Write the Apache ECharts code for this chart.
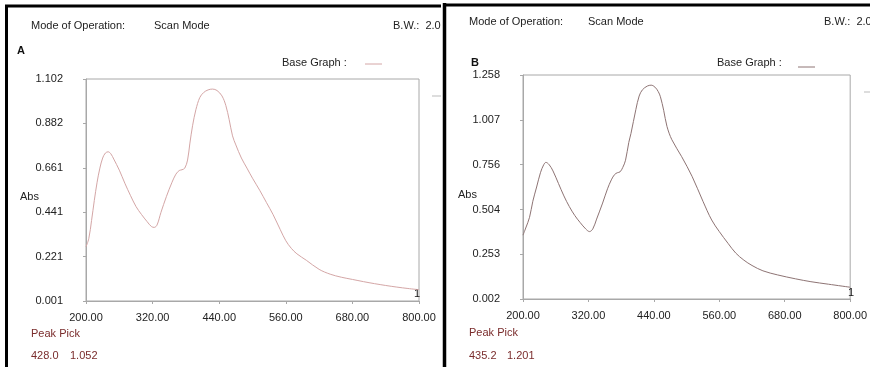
<!DOCTYPE html>
<html>
<head>
<meta charset="utf-8">
<script src="https://cdn.jsdelivr.net/npm/echarts@6/dist/echarts.min.js"></script>
<style>
html,body{margin:0;padding:0;background:#fff;}
#c{width:870px;height:367px;}
</style>
</head>
<body>
<div id="c"></div>
<script>
// ---- Data ----
const xTicks = [200, 320, 440, 560, 680, 800];
const yTicksA = [0.001, 0.221, 0.441, 0.661, 0.882, 1.102];
const yTicksB = [0.002, 0.253, 0.504, 0.756, 1.007, 1.258];

const nmA = [200,205,210,215,220,225,230,235,240,245,250,260,270,280,290,300,310,318,323,328,335,345,355,362,368,373,378,383,387,392,398,405,412,420,428,436,445,452,458,464,470,480,490,500,513,525,537,550,560,570,580,597,620,640,660,680,700,720,740,760,780,800];
const absA = [0.27,0.31,0.40,0.50,0.59,0.66,0.71,0.735,0.741,0.73,0.705,0.65,0.585,0.525,0.47,0.43,0.395,0.37,0.366,0.378,0.44,0.52,0.59,0.63,0.648,0.652,0.66,0.70,0.78,0.87,0.95,1.01,1.035,1.048,1.052,1.045,1.018,0.97,0.9,0.82,0.775,0.71,0.66,0.61,0.55,0.49,0.43,0.355,0.30,0.262,0.235,0.203,0.158,0.134,0.119,0.108,0.097,0.087,0.078,0.07,0.063,0.057];

const nmB = [200,205,212,218,225,232,238,242,248,255,265,275,285,295,305,315,322,328,335,346,355,362,368,373,378,383,388,394,398,407,413,419,428,435,442,448,452,458,464,473,491,510,530,546,560,576,590,605,620,640,667,700,728,760,800];
const absB = [0.36,0.40,0.46,0.55,0.63,0.71,0.755,0.768,0.755,0.72,0.65,0.58,0.52,0.47,0.43,0.395,0.38,0.395,0.45,0.54,0.62,0.67,0.70,0.71,0.715,0.74,0.78,0.88,0.93,1.065,1.14,1.175,1.196,1.201,1.19,1.165,1.136,1.06,0.97,0.895,0.80,0.69,0.55,0.445,0.38,0.314,0.26,0.22,0.19,0.16,0.137,0.115,0.099,0.085,0.068];

const peakA = ['428.0', '1.052'];
const peakB = ['435.2', '1.201'];

// ---- Chart ----
const FONT = '"Liberation Sans", Arial, sans-serif';
const AX = '#a8a8a8';
const colA = '#d4a6a6';
const colB = '#8e7474';
const peakCol = '#7a2c2c';

function xAxis(gi){
  return {
    type:'value', gridIndex:gi, min:200, max:800,
    axisLine:{show:true, lineStyle:{color:AX}},
    axisTick:{show:true, inside:false, length:3, lineStyle:{color:AX}, customValues:xTicks},
    axisLabel:{color:'#222', fontFamily:FONT, fontSize:11, margin:11, customValues:xTicks,
      formatter:v=>v.toFixed(2)},
    splitLine:{show:false}
  };
}
function yAxis(gi, ticks){
  return {
    type:'value', gridIndex:gi, min:ticks[0], max:ticks[ticks.length-1],
    axisLine:{show:true, lineStyle:{color:AX}},
    axisTick:{show:true, length:3, lineStyle:{color:AX}, customValues:ticks},
    axisLabel:{color:'#222', fontFamily:FONT, fontSize:11, margin:23, customValues:ticks,
      formatter:v=>v.toFixed(3)},
    splitLine:{show:false}
  };
}
function txt(x,y,t,opt){
  return Object.assign({type:'text', x:x, y:y, style:Object.assign({text:t, fill:'#222', font:'11px '+FONT, textVerticalAlign:'middle'}, opt||{})});
}
function line(x1,y1,x2,y2,color,w){
  return {type:'line', shape:{x1:x1,y1:y1,x2:x2,y2:y2}, style:{stroke:color, lineWidth:w}};
}

const chart = echarts.init(document.getElementById('c'), null, {renderer:'canvas'});
chart.setOption({
  animation:false,
  backgroundColor:'#fff',
  grid:[
    {left:86, top:79, width:333, height:222, show:true, borderColor:AX, borderWidth:1, backgroundColor:'transparent'},
    {left:523, top:75, width:330, height:224, show:true, borderColor:AX, borderWidth:1, backgroundColor:'transparent'}
  ],
  xAxis:[xAxis(0), xAxis(1)],
  yAxis:[yAxis(0, yTicksA), yAxis(1, yTicksB)],
  series:[
    {type:'line', xAxisIndex:0, yAxisIndex:0, data:nmA.map((x,i)=>[x,absA[i]]),
     smooth:0.35, showSymbol:false, lineStyle:{color:colA, width:1}},
    {type:'line', xAxisIndex:1, yAxisIndex:1, data:nmB.map((x,i)=>[x,absB[i]]),
     smooth:0.35, showSymbol:false, lineStyle:{color:colB, width:1}}
  ],
  graphic:[
    // frames
    line(6.5,5,6.5,367,'#000',3),
    line(5,6,441,6,'#000',3),
    line(444.5,3,444.5,367,'#000',3.5),
    line(443,5,870,5,'#000',3),
    // panel A texts
    txt(31,26,'Mode of Operation:'),
    txt(154,26,'Scan Mode'),
    txt(393,26,'B.W.:  2.0'),
    txt(17,51,'A',{font:'bold 11px '+FONT, fill:'#111'}),
    txt(282,63,'Base Graph :'),
    line(365,64,382,64,colA,1),
    line(432,96,441,96,'#bbb',1),
    txt(20,197,'Abs'),
    txt(414,294,'1',{fill:'#111'}),
    txt(31,334,'Peak Pick',{fill:peakCol}),
    txt(31,356,peakA[0],{fill:peakCol}),
    txt(70,356,peakA[1],{fill:peakCol}),
    // panel B texts
    txt(469,22,'Mode of Operation:'),
    txt(588,22,'Scan Mode'),
    txt(824,22,'B.W.:  2.0'),
    txt(471,63,'B',{font:'bold 11px '+FONT, fill:'#111'}),
    txt(717,63,'Base Graph :'),
    line(798,67,815,67,colB,1),
    line(864,92,870,92,'#bbb',1),
    txt(458,195,'Abs'),
    txt(848,293,'1',{fill:'#111'}),
    txt(469,333,'Peak Pick',{fill:peakCol}),
    txt(469,356,peakB[0],{fill:peakCol}),
    txt(507,356,peakB[1],{fill:peakCol})
  ]
});
</script>
</body>
</html>
